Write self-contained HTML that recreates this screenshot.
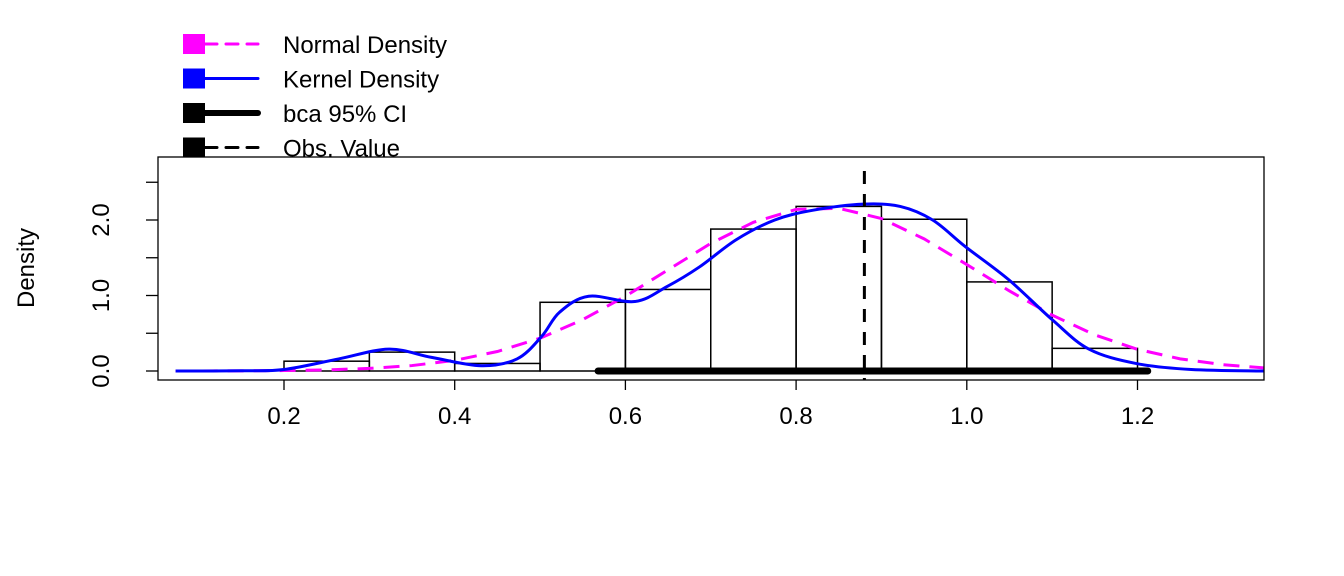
<!DOCTYPE html>
<html><head><meta charset="utf-8"><style>
html,body{margin:0;padding:0;background:#fff;}
svg{display:block;font-family:"Liberation Sans",Arial,sans-serif;}
</style></head><body>
<svg id="c" width="1344" height="576" viewBox="0 0 1344 576"></svg>
<script>
const binStarts=[0.2,0.3,0.4,0.5,0.6,0.7,0.8,0.9,1.0,1.1];
const binWidth=0.1;
const binHeights=[0.13,0.25,0.10,0.91,1.08,1.88,2.18,2.01,1.18,0.30];
const normX=[0.073,0.15,0.2,0.25,0.3,0.35,0.4,0.45,0.5,0.55,0.6,0.65,0.7,0.75,0.8,0.85,0.9,0.95,1.0,1.05,1.1,1.15,1.2,1.25,1.3,1.348];
const normY=[0.00,0.002,0.006,0.015,0.034,0.072,0.141,0.258,0.434,0.68,0.99,1.34,1.69,1.97,2.14,2.155,2.02,1.75,1.41,1.06,0.74,0.478,0.287,0.161,0.084,0.041];
const kernX=[0.073,0.15,0.2,0.264,0.323,0.373,0.431,0.473,0.502,0.523,0.557,0.611,0.649,0.687,0.73,0.775,0.82,0.879,0.922,0.960,0.998,1.049,1.10,1.143,1.198,1.263,1.348];
const kernY=[0.0,0.003,0.02,0.16,0.29,0.18,0.07,0.16,0.46,0.78,0.99,0.92,1.12,1.38,1.74,2.0,2.13,2.21,2.18,2.0,1.65,1.21,0.68,0.29,0.1,0.02,0.0];
const ciRange=[0.568,1.212];
const obsValue=0.880;
const xTicks=[0.2,0.4,0.6,0.8,1.0,1.2];
const xTickLabels=["0.2","0.4","0.6","0.8","1.0","1.2"];
const yTicks=[0,0.5,1,1.5,2,2.5];
const yLabels=[0,1,2];
const yLabelText=["0.0","1.0","2.0"];

const X=v=>284+(v-0.2)*853.5;
const Y=v=>371-75.5*v;
const svg=document.getElementById('c');
const NS='http://www.w3.org/2000/svg';
function mk(tag,attrs,parent){const e=document.createElementNS(NS,tag);for(const k in attrs)e.setAttribute(k,attrs[k]);(parent||svg).appendChild(e);return e;}

const leg=mk('g',{});


const legItems=[["Normal Density","#ff00ff","12,9",3],["Kernel Density","#0000ff","",3],["bca 95% CI","#000","",6],["Obs. Value","#000","12,9",3]];
legItems.forEach((it,i)=>{
  const cy=44+i*34.5;
  const g=mk('g',{},leg);
  
  
  mk('rect',{x:183,y:cy-10,width:22,height:20,fill:it[1]},g);
  const l=mk('line',{x1:205,y1:cy,x2:258,y2:cy,stroke:it[1],'stroke-width':it[3],'stroke-linecap':'round'},g);
  if(it[2])l.setAttribute('stroke-dasharray',it[2]);
  const t=mk('text',{x:283,y:cy+9,'font-size':24,fill:'#000'},g);
  t.textContent=it[0];
});
mk('rect',{x:158,y:157,width:1106,height:223,fill:'#fff'});

binStarts.forEach((b,i)=>{
  const r=mk('rect',{x:X(b),y:Y(binHeights[i]),width:X(b+binWidth)-X(b),height:Y(0)-Y(binHeights[i]),fill:'none',stroke:'#000','stroke-width':1.5});
  
  
});
const ci=mk('line',{x1:X(ciRange[0]),y1:Y(0),x2:X(ciRange[1]),y2:Y(0),stroke:'#000','stroke-width':7,'stroke-linecap':'round'});


const np=mk('path',{d:normX.map((x,i)=>(i?'L':'M')+X(x)+','+Y(normY[i])).join(''),fill:'none',stroke:'#ff00ff','stroke-width':3,'stroke-dasharray':'16,10'});


function smooth(xs,ys){const p=xs.map((x,i)=>[X(x),Y(ys[i])]);let d='M'+p[0];for(let i=0;i<p.length-1;i++){const p0=p[i-1]||p[i],p1=p[i],p2=p[i+1],p3=p[i+2]||p2;const c1=[p1[0]+(p2[0]-p0[0])/6,p1[1]+(p2[1]-p0[1])/6],c2=[p2[0]-(p3[0]-p1[0])/6,p2[1]-(p3[1]-p1[1])/6];d+='C'+c1+' '+c2+' '+p2;}return d;}
const kp=mk('path',{d:smooth(kernX,kernY),fill:'none',stroke:'#0000ff','stroke-width':3});


const ob=mk('line',{x1:X(obsValue),y1:171,x2:X(obsValue),y2:380,stroke:'#000','stroke-width':3,'stroke-dasharray':'13,10'});


const bx=mk('rect',{x:158,y:157,width:1106,height:223,fill:'none',stroke:'#000','stroke-width':1.3});


xTicks.forEach((v,i)=>{
  mk('line',{x1:X(v),y1:380,x2:X(v),y2:390,stroke:'#000','stroke-width':1.3});
  const t=mk('text',{x:X(v),y:424,'font-size':24,'text-anchor':'middle'});
  
  
  t.textContent=xTickLabels[i];
});
yTicks.forEach(v=>mk('line',{x1:146,y1:Y(v),x2:158,y2:Y(v),stroke:'#000','stroke-width':1.3}));
yLabels.forEach((v,i)=>{
  const t=mk('text',{x:0,y:0,'font-size':24,'text-anchor':'middle',transform:`translate(109,${Y(v)}) rotate(-90)`});
  
  
  t.textContent=yLabelText[i];
});
const yt=mk('text',{x:0,y:0,'font-size':24,'text-anchor':'middle',transform:'translate(34,268) rotate(-90)'});


yt.textContent='Density';
</script>
</body></html>
